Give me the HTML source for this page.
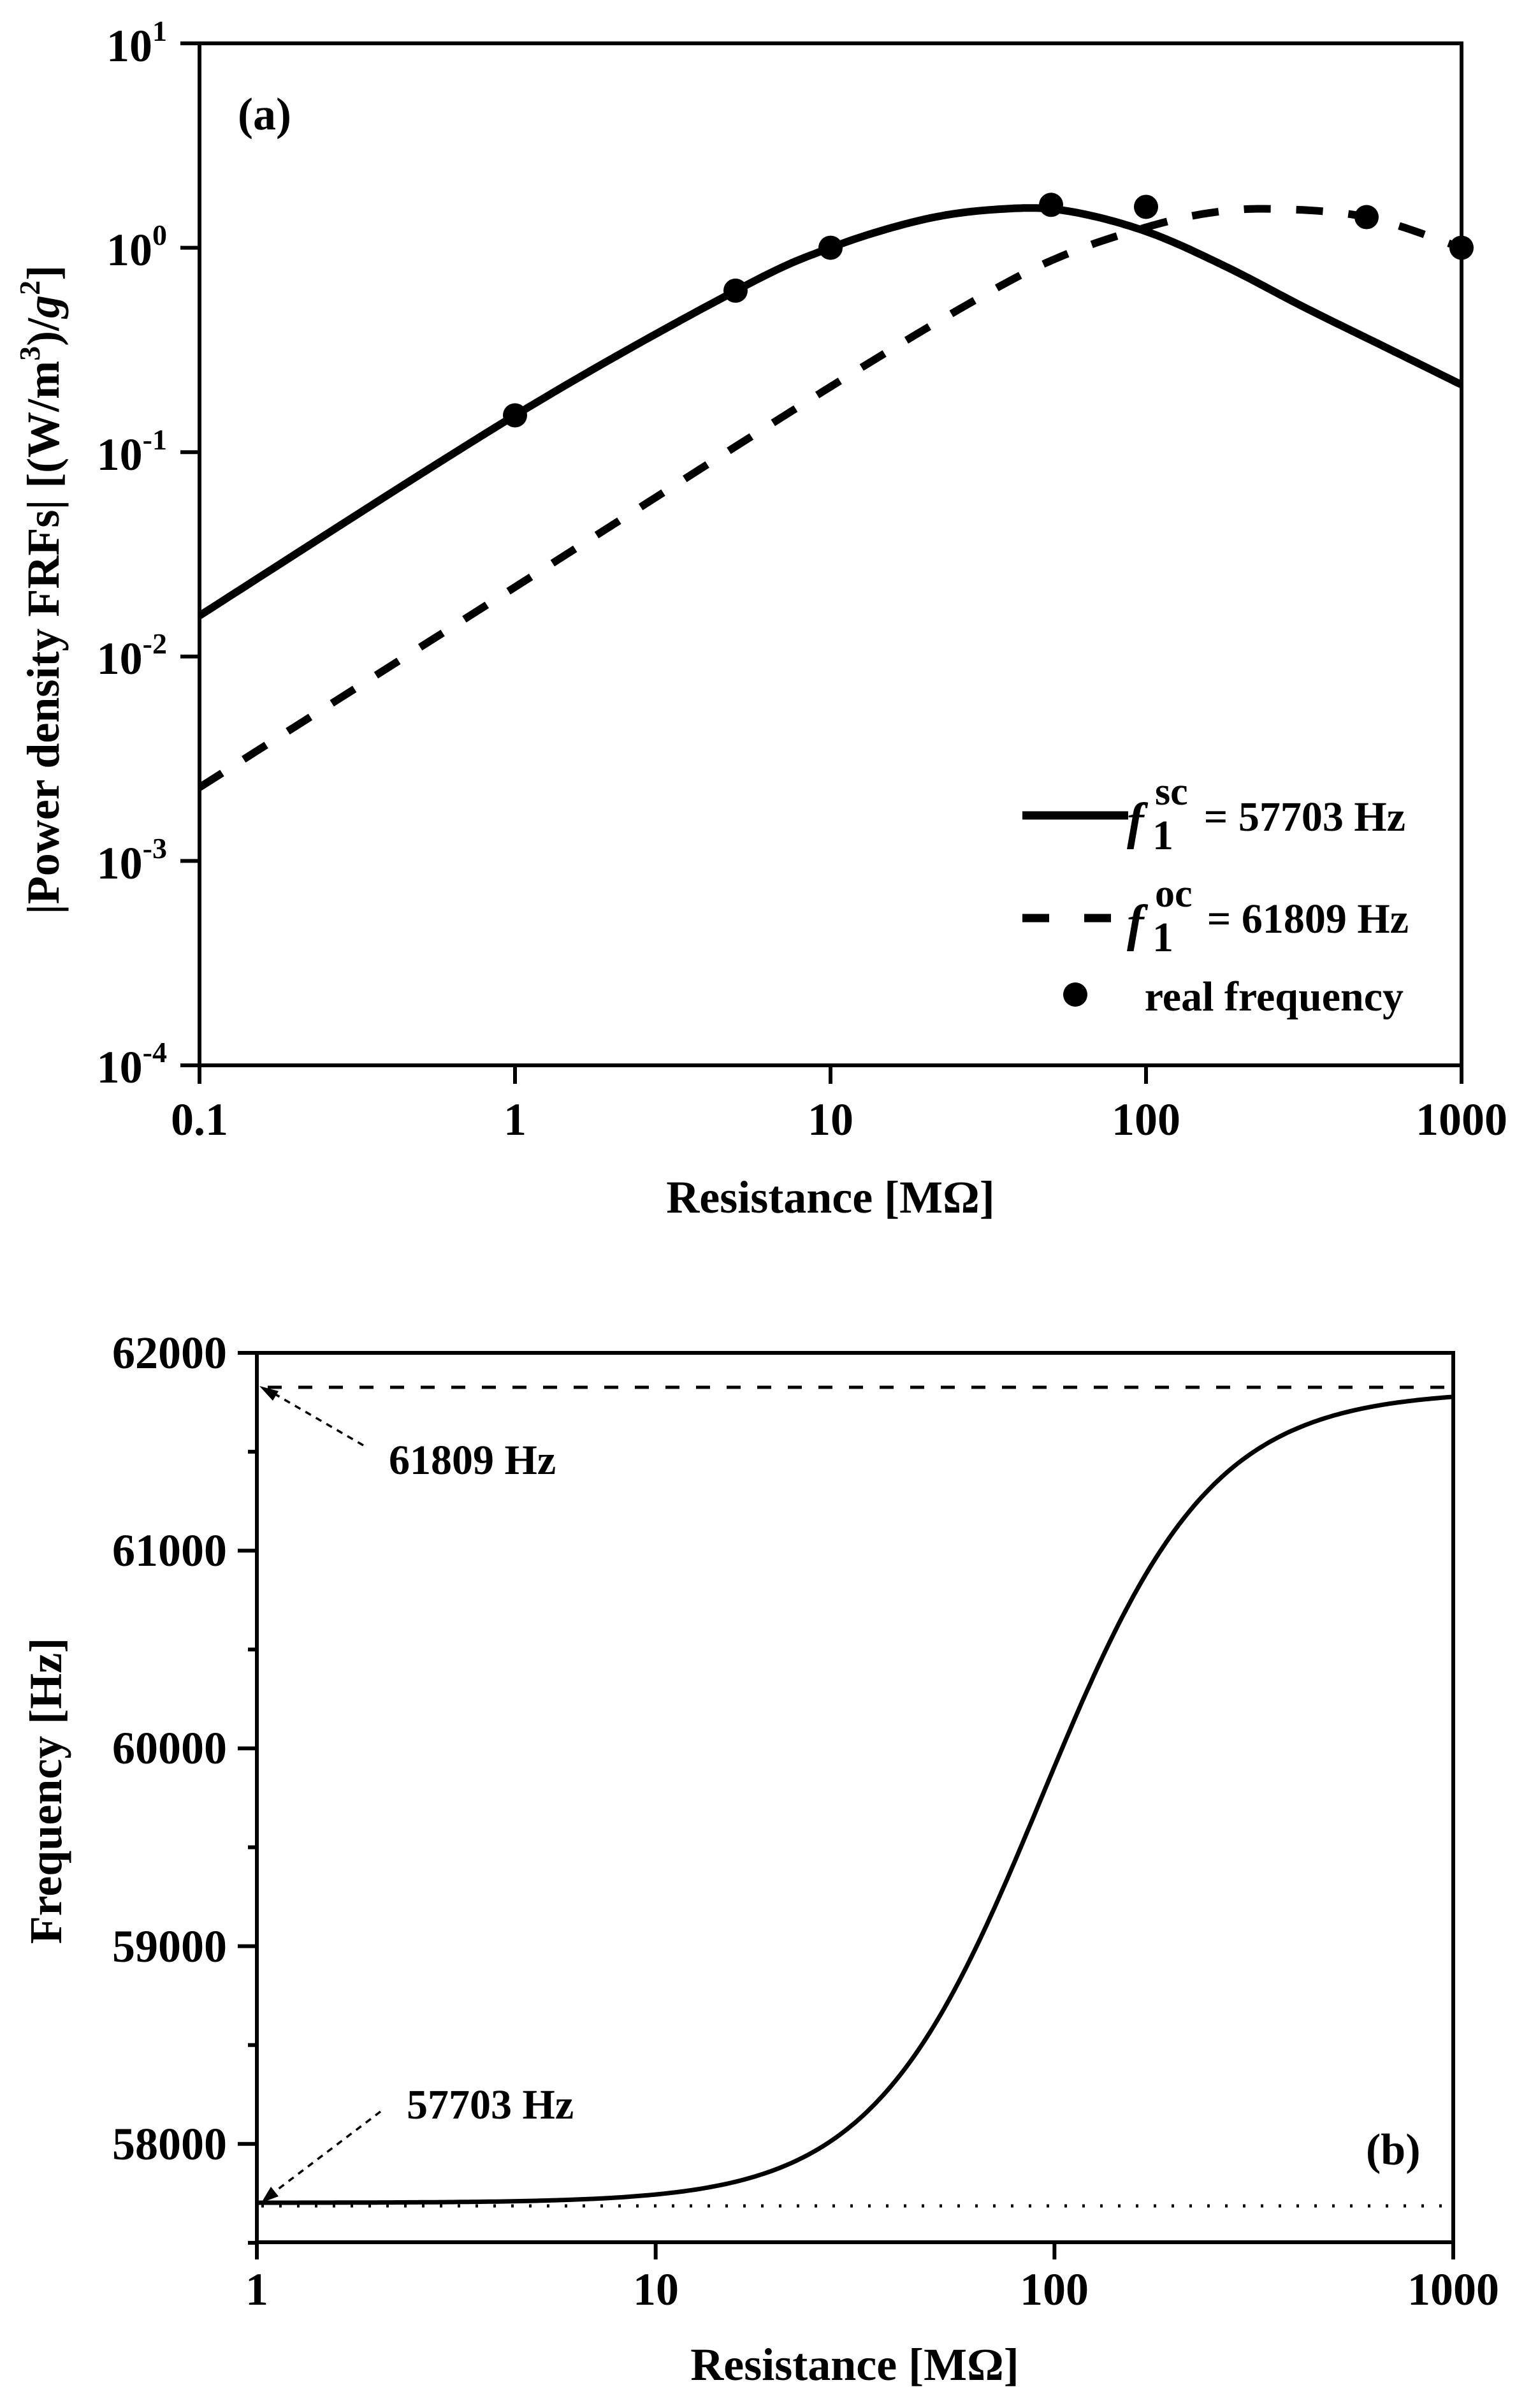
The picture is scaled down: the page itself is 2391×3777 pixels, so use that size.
<!DOCTYPE html>
<html><head><meta charset="utf-8"><style>
html,body{margin:0;padding:0;background:#fff;}
svg{display:block;}
text{font-family:"Liberation Serif",serif;font-weight:bold;fill:#000;}
</style></head><body>
<svg id="s" width="2391" height="3777" viewBox="0 0 2391 3777" xmlns="http://www.w3.org/2000/svg">
<rect width="2391" height="3777" fill="#fff"/>
<g id="pa">
<rect x="313" y="68" width="1980" height="1603" fill="none" stroke="#000" stroke-width="6"/>
<g stroke="#000" stroke-width="6" id="aticks"></g>
<path id="solidA" fill="none" stroke="#000" stroke-width="12" stroke-linejoin="round"/>
<path id="dashA" fill="none" stroke="#000" stroke-width="12" stroke-dasharray="42 40"/>
<g id="dotsA" fill="#000"></g>
<g font-size="72" text-anchor="end">
<text x="262" y="96">10<tspan font-size="46" dy="-32">1</tspan></text>
<text x="262" y="416">10<tspan font-size="46" dy="-32">0</tspan></text>
<text x="262" y="737">10<tspan font-size="46" dy="-32">-1</tspan></text>
<text x="262" y="1057">10<tspan font-size="46" dy="-32">-2</tspan></text>
<text x="262" y="1378">10<tspan font-size="46" dy="-32">-3</tspan></text>
<text x="262" y="1698">10<tspan font-size="46" dy="-32">-4</tspan></text>
</g>
<g font-size="72" text-anchor="middle">
<text x="313" y="1780">0.1</text>
<text x="808" y="1780">1</text>
<text x="1303" y="1780">10</text>
<text x="1798" y="1780">100</text>
<text x="2293" y="1780">1000</text>
<text x="1303" y="1902">Resistance [MΩ]</text>
</g>
<text x="373" y="203" font-size="72">(a)</text>
<text transform="translate(92,925) rotate(-90)" font-size="72" text-anchor="middle">|Power density FRFs| [(W/m<tspan font-size="46" dy="-30">3</tspan><tspan dy="30">)/</tspan><tspan font-style="italic">g</tspan><tspan font-size="46" dy="-30">2</tspan><tspan dy="30">]</tspan></text>
<line x1="1604" y1="1279" x2="1770" y2="1279" stroke="#000" stroke-width="13"/>
<text x="1768" y="1315" font-size="80" font-style="italic">f</text>
<text x="1808" y="1332" font-size="66">1</text>
<text x="1812" y="1262" font-size="62">sc</text>
<text x="2205" y="1303" font-size="66" text-anchor="end">= 57703 Hz</text>
<line x1="1604" y1="1440" x2="1770" y2="1440" stroke="#000" stroke-width="13" stroke-dasharray="42 55"/>
<text x="1768" y="1475" font-size="80" font-style="italic">f</text>
<text x="1808" y="1492" font-size="66">1</text>
<text x="1812" y="1422" font-size="62">oc</text>
<text x="2210" y="1463" font-size="66" text-anchor="end">= 61809 Hz</text>
<circle cx="1687" cy="1560" r="19" fill="#000"/>
<text x="2202" y="1585" font-size="66" text-anchor="end">real frequency</text>
</g>
<g id="pb">
<rect x="403" y="2122" width="1877" height="1395" fill="none" stroke="#000" stroke-width="6"/>
<g stroke="#000" stroke-width="6" id="bticks"></g>
<line x1="420" y1="2176" x2="2280" y2="2176" stroke="#000" stroke-width="5" stroke-dasharray="22 26"/>
<line x1="410" y1="3460" x2="2280" y2="3460" stroke="#000" stroke-width="5" stroke-dasharray="4 24"/>
<path id="curveB" fill="none" stroke="#000" stroke-width="7"/>
<line x1="570" y1="2267" x2="425" y2="2183" stroke="#000" stroke-width="3.5" stroke-dasharray="10 9"/>
<polygon points="407,2174 437,2182 428,2197" fill="#000"/>
<line x1="597" y1="3312" x2="428" y2="3440" stroke="#000" stroke-width="3.5" stroke-dasharray="10 9"/>
<polygon points="410,3455 425,3430 437,3445" fill="#000"/>
<text x="610" y="2312" font-size="66">61809 Hz</text>
<text x="638" y="3323" font-size="66">57703 Hz</text>
<text x="2143" y="3395" font-size="70">(b)</text>
<g font-size="72" text-anchor="end">
<text x="356" y="2146">62000</text>
<text x="356" y="2456">61000</text>
<text x="356" y="2766">60000</text>
<text x="356" y="3077">59000</text>
<text x="356" y="3387">58000</text>
</g>
<g font-size="72" text-anchor="middle">
<text x="403" y="3615">1</text>
<text x="1029" y="3615">10</text>
<text x="1654" y="3615">100</text>
<text x="2280" y="3615">1000</text>
<text x="1341" y="3733">Resistance [MΩ]</text>
</g>
<text transform="translate(96,2809) rotate(-90)" font-size="72" text-anchor="middle">Frequency [Hz]</text>
</g>
</svg>
<script>
(function(){
var NS="http://www.w3.org/2000/svg";
function X(l){return 313+(l+1)*495;}
function Y(l){return 388.6-l*320.6;}
function interp(pts){
  var out=[];
  for(var i=0;i<pts.length-1;i++){
    var p0=pts[Math.max(0,i-1)],p1=pts[i],p2=pts[i+1],p3=pts[Math.min(pts.length-1,i+2)];
    for(var t=0;t<1;t+=0.05){
      var t2=t*t,t3=t2*t;
      var x=0.5*((2*p1[0])+(-p0[0]+p2[0])*t+(2*p0[0]-5*p1[0]+4*p2[0]-p3[0])*t2+(-p0[0]+3*p1[0]-3*p2[0]+p3[0])*t3);
      var y=0.5*((2*p1[1])+(-p0[1]+p2[1])*t+(2*p0[1]-5*p1[1]+4*p2[1]-p3[1])*t2+(-p0[1]+3*p1[1]-3*p2[1]+p3[1])*t3);
      out.push([x,y]);
    }
  }
  out.push(pts[pts.length-1]);
  return out;
}
function pathOf(pts){return pts.map(function(p,i){return (i?"L":"M")+X(p[0]).toFixed(1)+" "+Y(p[1]).toFixed(1);}).join("");}
var solid=[[-1,-1.80],[0,-0.82],[0.7,-0.21],[1,0],[1.3,0.14],[1.55,0.19],[1.75,0.18],[2,0.08],[2.25,-0.09],[2.5,-0.29],[2.75,-0.48],[3,-0.67]];
var dash=[[-1,-2.64],[0,-1.66],[1,-0.68],[1.5,-0.22],[1.75,-0.03],[2,0.10],[2.2,0.17],[2.4,0.19],[2.7,0.15],[3,0]];
document.getElementById("solidA").setAttribute("d",pathOf(interp(solid)));
document.getElementById("dashA").setAttribute("d",pathOf(interp(dash)));
var dots=[[0,-0.82],[0.699,-0.21],[1,0],[1.699,0.21],[2,0.2],[2.699,0.15],[3,0]];
var g=document.getElementById("dotsA");
dots.forEach(function(d){var c=document.createElementNS(NS,"circle");c.setAttribute("cx",X(d[0]));c.setAttribute("cy",Y(d[1]));c.setAttribute("r",19);g.appendChild(c);});
var ta=document.getElementById("aticks");
function ln(g,x1,y1,x2,y2){var l=document.createElementNS(NS,"line");l.setAttribute("x1",x1);l.setAttribute("y1",y1);l.setAttribute("x2",x2);l.setAttribute("y2",y2);g.appendChild(l);}
for(var i=0;i<=5;i++){var y=68+i*320.6;ln(ta,283,y,313,y);}
for(var i=0;i<=4;i++){var x=313+i*495;ln(ta,x,1671,x,1700);}
var tb=document.getElementById("bticks");
for(var i=0;i<=9;i++){var y=2122+i*155.1;ln(tb,(i%2==0)?373:389,y,403,y);}
for(var i=0;i<=3;i++){var x=403+i*625.67;ln(tb,x,3517,x,3544);}
var d="";
for(var l=0;l<=3.0001;l+=0.01){var R=Math.pow(10,l),r=R/93,q=Math.pow(r,2.05),f=57703+4106*q/(1+q);
 var x=403+l*625.67,y=2122+(62000-f)*0.31025;d+=(l?"L":"M")+x.toFixed(1)+" "+y.toFixed(1);}
document.getElementById("curveB").setAttribute("d",d);
})();
</script>
</body></html>
